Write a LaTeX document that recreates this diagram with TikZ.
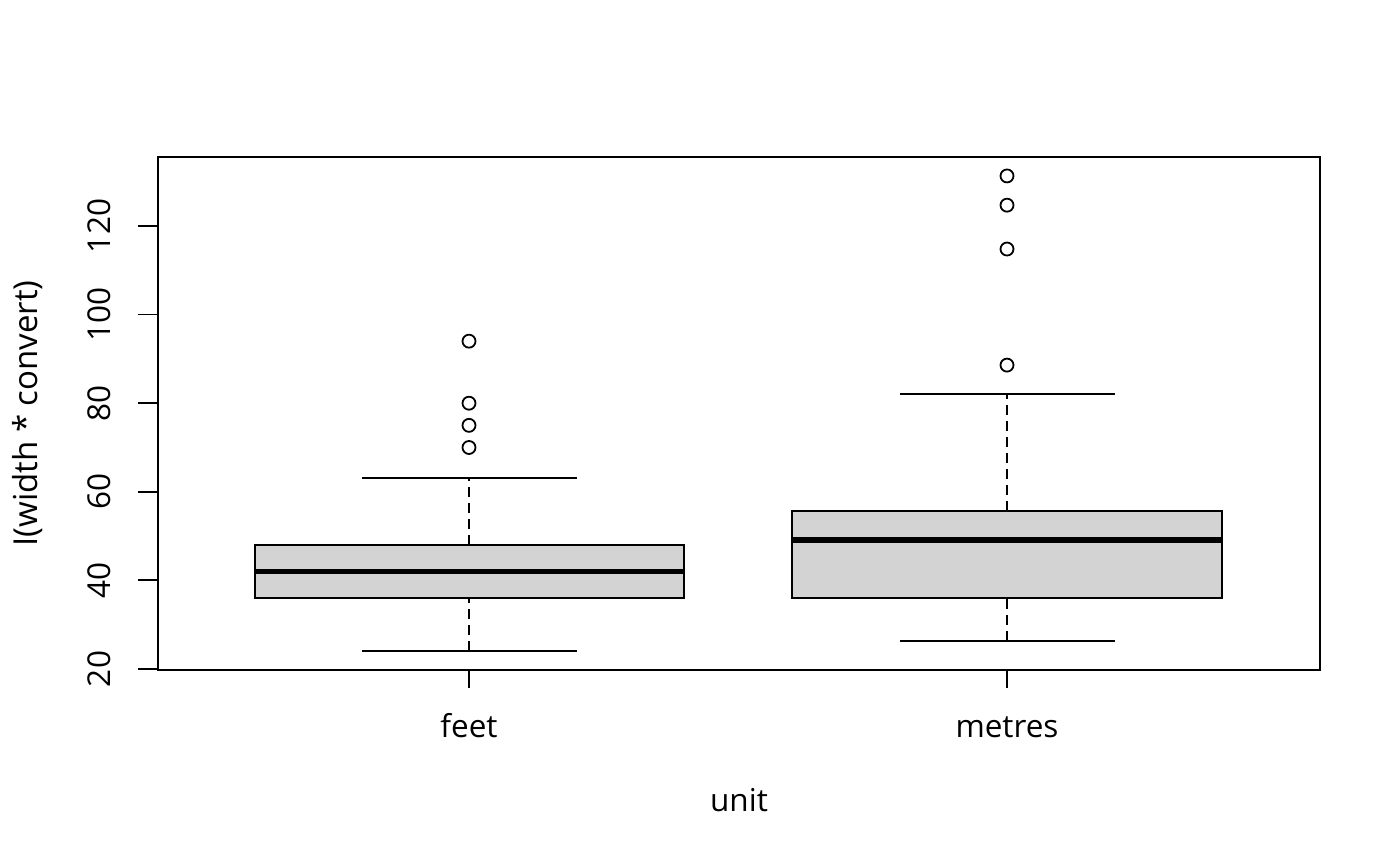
\documentclass[tikz,border=0pt]{standalone}
\usepackage{fontspec}
\setsansfont{Open Sans}
\renewcommand{\familydefault}{\sfdefault}
\usetikzlibrary{positioning}
\definecolor{boxgray}{gray}{0.827}
\tikzset{rline/.style = {line width=1.8pt},
         rbox/.style = {rline, draw, fill=boxgray},
         rwhisk/.style = {rline, dash pattern=on 10pt off 6pt},
         rmedian/.style = {line width=5.5pt},
         rlabel/.style = {font=\fontsize{31.5}{36}\selectfont}}

\begin{document}
\begin{tikzpicture}[x=1pt, y=1pt]
    \useasboundingbox (0, 0) rectangle (1400, 866);

    % data scope: y in units of the data
    \begin{scope}[yshift=108.4pt, y=4.43pt]
      % feet
      \draw [rwhisk] (469, 24) -- (469, 36);
      \draw [rwhisk] (469, 48) -- (469, 63.1);
      \draw [rline] (362, 24) -- (577, 24);
      \draw [rline] (362, 63.1) -- (577, 63.1);
      \draw [rbox] (255, 36) rectangle (684, 48);
      \draw [rmedian] (255, 42) -- (684, 42);
      \foreach \v in {70, 75, 80, 94}
        \draw [rline] (469, \v) circle [radius=6.5pt];

      % metres
      \draw [rwhisk] (1007, 26.3) -- (1007, 36);
      \draw [rwhisk] (1007, 55.7) -- (1007, 82.1);
      \draw [rline] (900, 26.3) -- (1115, 26.3);
      \draw [rline] (900, 82.1) -- (1115, 82.1);
      \draw [rbox] (792, 36) rectangle (1222, 55.7);
      \draw [rmedian] (792, 49.1) -- (1222, 49.1);
      \foreach \v in {88.6, 114.8, 124.7, 131.3}
        \draw [rline] (1007, \v) circle [radius=6.5pt];

      % y axis
      \foreach \v in {20, 40, ..., 120} {
        \draw [rline] (158, \v) -- (138, \v);
        \node [rlabel, rotate=90, anchor=base] (ylab\v) at (110, \v) {\v};
      }
    \end{scope}

    \draw [rline] (158, 196) rectangle (1320, 709);

    % x axis
    \draw [rline] (469, 196) -- (469, 178);
    \draw [rline] (1007, 196) -- (1007, 178);
    \node [rlabel, anchor=base] (lblfeet) at (469, 128) {feet};
    \node [rlabel, anchor=base] (lblmetres) at (1007, 128) {metres};

    \node [rlabel, anchor=base] (xtitle) at (739, 54) {unit};
    \node [rlabel, rotate=90, anchor=base, font=\fontsize{33}{38}\selectfont] (ytitle) at (37, 452.5) {I(width * convert)};
  \end{tikzpicture}
\end{document}
